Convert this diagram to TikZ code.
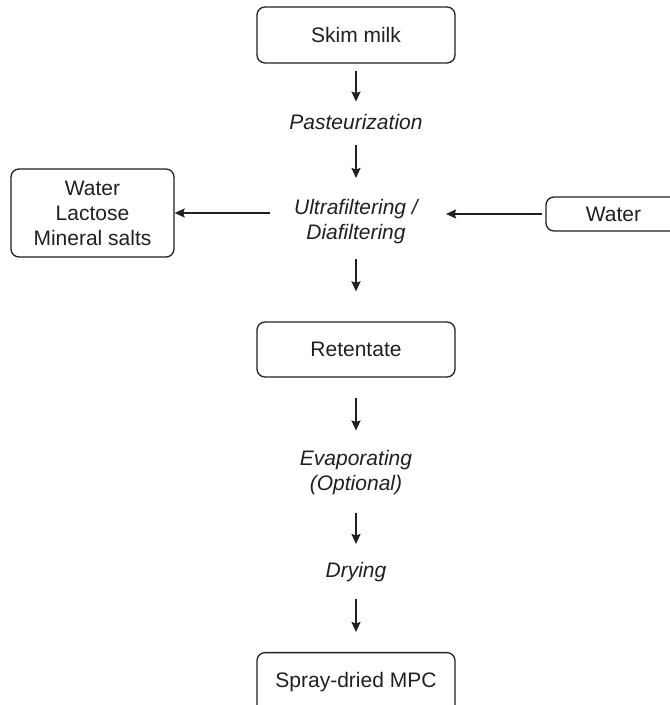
\documentclass[tikz,border=0pt]{standalone}
\usepackage{fontspec}
\setmainfont{Liberation Sans}
\usetikzlibrary{arrows.meta,positioning}
\definecolor{ink}{RGB}{35,31,32}

\begin{document}
\begin{tikzpicture}[x=1pt,y=1pt,>={Stealth[length=10pt,width=9pt,inset=1.5pt]},
 box/.style={draw=ink,line width=1.3pt,rounded corners=8pt,minimum height=55pt,font=\fontsize{21}{25}\selectfont,text=ink,align=center},
 stage/.style={inner sep=0pt,font=\fontsize{21}{25}\selectfont\itshape,text=ink,align=center},
 flow/.style={->,draw=ink,line width=1.8pt}]
\useasboundingbox (0,0) rectangle (670,705);
\node[box,minimum width=198pt,minimum height=56pt] (skim) at (356,670) {Skim milk};
\node[stage] (past) at (356,582.75) {Pasteurization};
\node[stage] (uf) at (356,483) {Ultrafiltering /\\Diafiltering};
\node[box,minimum width=163pt,minimum height=88pt] (waste) at (92.5,492) {Water\\Lactose\\Mineral salts};
\node[box,minimum width=135pt,minimum height=34pt] (water) at (613.5,491) {Water};
\node[box,minimum width=198pt] (ret) at (356,355.5) {Retentate};
\node[stage] (evap) at (356,232.5) {Evaporating\\(Optional)};
\node[stage] (dry) at (356,132.5) {Drying};
\node[box,anchor=north,minimum width=198pt,minimum height=0pt,inner ysep=0pt,text height=35pt,text depth=40pt] (mpc) at (356,53) {Spray-dried MPC};
% main line
\draw[flow,shorten <=7pt,shorten >=12.75pt] (skim) -- (past);
\draw[flow,shorten <=15pt,shorten >=21.5pt] (past) -- (uf);
\draw[flow,shorten <=14.6pt,shorten >=30pt] (uf) -- (ret);
\draw[flow,shorten <=20pt,shorten >=19.5pt] (ret) -- (evap);
\draw[flow,shorten <=17.6pt,shorten >=18.5pt] (evap) -- (dry);
\draw[flow,shorten <=16.6pt,shorten >=20pt] (dry) -- (mpc);
% side streams
\draw[flow,shorten <=24pt] (uf.west |- waste.east) -- (waste.east);
\draw[flow,shorten <=3pt,shorten >=28pt] (water.west) -- (uf.east |- water.west);
\end{tikzpicture}
\end{document}
